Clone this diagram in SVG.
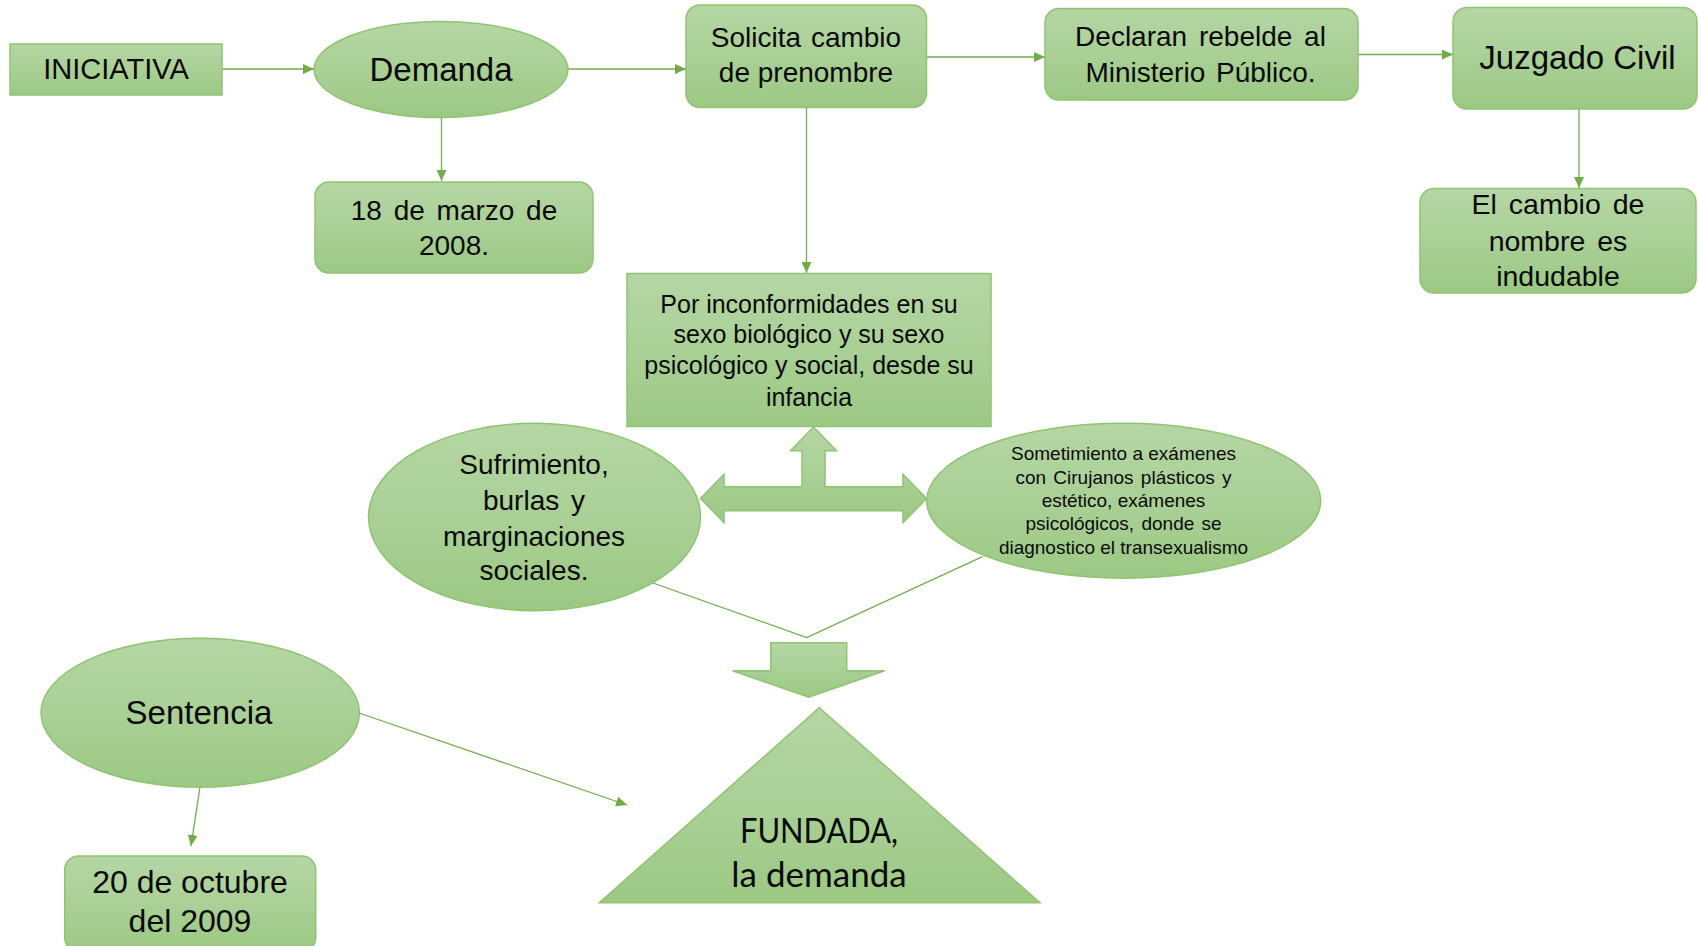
<svg xmlns="http://www.w3.org/2000/svg" width="1698" height="946" viewBox="0 0 1698 946">
<defs>
<linearGradient id="g" x1="0" y1="0" x2="0" y2="1">
<stop offset="0" stop-color="#b5d6a4"/>
<stop offset="0.5" stop-color="#aad096"/>
<stop offset="1" stop-color="#9cc883"/>
</linearGradient>
<marker id="ah" markerUnits="userSpaceOnUse" markerWidth="12" markerHeight="10" refX="11" refY="5" orient="auto">
<path d="M0,0 L11,5 L0,10 z" fill="#70ad47"/>
</marker>
<style>
.s{fill:url(#g);stroke:#8fc470;stroke-width:1.5}
.t{font-family:"Liberation Sans",Arial,sans-serif;fill:#0a0a0a;text-anchor:middle}
.c{fill:none;stroke:#70ad47;stroke-width:1.3}
.ca{fill:none;stroke:#70ad47;stroke-width:1.3;marker-end:url(#ah)}
</style>
</defs>
<rect width="1698" height="946" fill="#ffffff"/>

<g id="connectors">
<line class="ca" x1="222" y1="69" x2="314" y2="69"/>
<line class="ca" x1="568" y1="69" x2="686" y2="69"/>
<line class="ca" x1="441.5" y1="117" x2="441.5" y2="181"/>
<line class="ca" x1="926" y1="57" x2="1045" y2="57"/>
<line class="ca" x1="1358" y1="54.5" x2="1453" y2="54.5"/>
<line class="ca" x1="1579" y1="109" x2="1579" y2="188"/>
<line class="ca" x1="806.5" y1="107" x2="806.5" y2="273"/>
<line class="ca" x1="200" y1="787" x2="191" y2="846"/>
<line class="ca" x1="359" y1="713" x2="627" y2="805"/>
<polyline class="c" points="653,583 806.7,637.5 982.6,556.7"/>
</g>

<g id="iniciativa">
<rect class="s" x="10" y="44" width="212" height="51"/>
<text class="t" x="116" y="79" font-size="29">INICIATIVA</text>
</g>

<g id="demanda">
<ellipse class="s" cx="441" cy="69.5" rx="127" ry="48"/>
<text class="t" x="441" y="81" font-size="33">Demanda</text>
</g>

<g id="fecha-marzo">
<rect class="s" x="315" y="182" width="278" height="91" rx="14"/>
<text class="t" x="454" y="220" font-size="28" word-spacing="4">18 de marzo de</text>
<text class="t" x="454" y="255" font-size="28">2008.</text>
</g>

<g id="solicita">
<rect class="s" x="686" y="5" width="240.5" height="102.5" rx="14"/>
<text class="t" x="806" y="46.7" font-size="28" word-spacing="2">Solicita cambio</text>
<text class="t" x="806" y="81.7" font-size="28">de prenombre</text>
</g>

<g id="declaran">
<rect class="s" x="1045" y="8.5" width="313" height="91.5" rx="14"/>
<text class="t" x="1200.5" y="46" font-size="28" word-spacing="4">Declaran rebelde al</text>
<text class="t" x="1200.5" y="81.7" font-size="28" word-spacing="3">Ministerio Público.</text>
</g>

<g id="juzgado">
<rect class="s" x="1453" y="7.5" width="244" height="101.5" rx="14"/>
<text class="t" x="1577.5" y="69" font-size="33">Juzgado Civil</text>
</g>

<g id="cambio-nombre">
<rect class="s" x="1420" y="188.5" width="276" height="104.5" rx="14"/>
<text class="t" x="1558" y="214" font-size="28.5" word-spacing="4">El cambio de</text>
<text class="t" x="1558" y="250.5" font-size="28.5" word-spacing="4">nombre es</text>
<text class="t" x="1558" y="286" font-size="28.5">indudable</text>
</g>

<g id="inconformidades">
<rect class="s" x="627" y="273.5" width="364" height="153"/>
<text class="t" x="809" y="312.7" font-size="25">Por inconformidades en su</text>
<text class="t" x="809" y="343.3" font-size="25">sexo biológico y su sexo</text>
<text class="t" x="809" y="374.3" font-size="25">psicológico y social, desde su</text>
<text class="t" x="809" y="405.7" font-size="25">infancia</text>
</g>

<g id="flecha-triple">
<polygon class="s" points="813.5,427 836.5,450.7 825,450.7 825,486.7 903,486.7 903,474.3 926.5,498.5 903,522.7 903,510.7 724,510.7 724,522.7 700.5,498.5 724,474.3 724,486.7 802,486.7 802,450.7 790.5,450.7"/>
</g>

<g id="sufrimiento">
<ellipse class="s" cx="534.5" cy="517" rx="166" ry="93.7"/>
<text class="t" x="534" y="474" font-size="28">Sufrimiento,</text>
<text class="t" x="534" y="510" font-size="28" word-spacing="4">burlas y</text>
<text class="t" x="534" y="545.7" font-size="28">marginaciones</text>
<text class="t" x="534" y="580" font-size="28">sociales.</text>
</g>

<g id="sometimiento">
<ellipse class="s" cx="1123.7" cy="500.8" rx="197" ry="77.5"/>
<text class="t" x="1123.5" y="460.3" font-size="19">Sometimiento a exámenes</text>
<text class="t" x="1123.5" y="483.6" font-size="19" word-spacing="2">con Cirujanos plásticos y</text>
<text class="t" x="1123.5" y="506.9" font-size="19">estético, exámenes</text>
<text class="t" x="1123.5" y="530.2" font-size="19" word-spacing="2">psicológicos, donde se</text>
<text class="t" x="1123.5" y="553.5" font-size="19">diagnostico el transexualismo</text>
</g>

<g id="flecha-abajo">
<polygon class="s" points="770.7,642.7 846.7,642.7 846.7,670.7 884.7,670.7 808.7,697.3 732.7,670.7 770.7,670.7"/>
</g>

<g id="fundada">
<polygon class="s" points="819.3,707.7 1040,902.7 599.3,902.7"/>
<text class="t" x="819" y="842.7" font-size="35" textLength="158" lengthAdjust="spacingAndGlyphs" style="font-family:Lato,'Open Sans',sans-serif">FUNDADA,</text>
<text class="t" x="819" y="886.7" font-size="35" style="font-family:Lato,'Open Sans',sans-serif">la demanda</text>
</g>

<g id="sentencia">
<ellipse class="s" cx="200.2" cy="712.8" rx="159.2" ry="74.5"/>
<text class="t" x="199" y="724" font-size="33">Sentencia</text>
</g>

<g id="fecha-octubre">
<rect class="s" x="64.7" y="856" width="251" height="96" rx="14"/>
<text class="t" x="190" y="893.3" font-size="32">20 de octubre</text>
<text class="t" x="190" y="931.7" font-size="32">del 2009</text>
</g>
</svg>
